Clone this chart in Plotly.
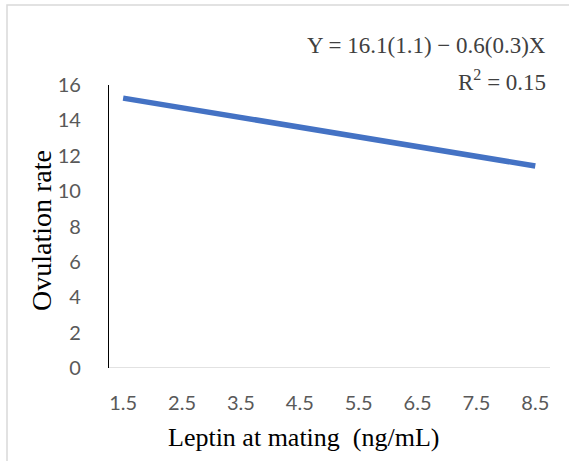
import plotly.graph_objects as go

# Fitted regression line: leptin at mating vs ovulation rate
leptin = [1.5, 8.5]
ovulation_fit = [15.26, 11.42]

x_ticks = [1.5, 2.5, 3.5, 4.5, 5.5, 6.5, 7.5, 8.5]
y_ticks = [0, 2, 4, 6, 8, 10, 12, 14, 16]

W, H = 569, 461
L, R, T, B = 109, 19, 85, 93
PW, PH = W - L - R, H - T - B


def px(x):
    return (x - L) / PW


def py(y):
    return (H - B - y) / PH


fig = go.Figure()
fig.add_trace(go.Scatter(
    x=leptin, y=ovulation_fit, mode="lines",
    line=dict(color="#4472C4", width=5.5),
    hoverinfo="skip", showlegend=False,
))

tick_font = dict(family="Lato, Carlito, sans-serif", size=20, color="#595959")
serif = "Liberation Serif, DejaVu Serif, serif"

fig.update_layout(
    width=W, height=H,
    margin=dict(l=L, r=R, t=T, b=B),
    paper_bgcolor="white", plot_bgcolor="white",
    xaxis=dict(
        range=[1.26, 8.75], tickvals=x_ticks, ticktext=[str(v) for v in x_ticks],
        showgrid=False, zeroline=False, showline=False,
        ticks="", tickfont=tick_font, ticklabelstandoff=21,
    ),
    yaxis=dict(
        range=[0, 16], tickvals=y_ticks,
        showgrid=False, zeroline=False, showline=True,
        linecolor="black", linewidth=1.3,
        ticks="", tickfont=tick_font, ticklabelstandoff=23,
    ),
    font=dict(family=serif),
)

# Light baseline along the x axis
fig.add_shape(type="line", xref="paper", yref="y", x0=0, x1=1, y0=0, y1=0,
              line=dict(color="#D9D9D9", width=1.3))

# Outer chart border (top and left edges visible)
fig.add_shape(type="rect", xref="paper", yref="paper",
              x0=px(7), x1=px(W + 20), y0=py(H + 20), y1=py(5),
              line=dict(color="#D9D9D9", width=1.5), layer="above")

# Axis titles
fig.add_annotation(
    xref="paper", yref="paper", x=px(304), y=py(437),
    xanchor="center", yanchor="middle", showarrow=False,
    text="Leptin at mating  (ng/mL)",
    font=dict(family=serif, size=26, color="black"),
)
fig.add_annotation(
    xref="paper", yref="paper", x=px(41), y=py(231),
    xanchor="center", yanchor="middle", showarrow=False, textangle=-90,
    text="Ovulation rate",
    font=dict(family=serif, size=28, color="black"),
)

# Regression equation and fit statistic
fig.add_annotation(
    xref="paper", yref="paper", x=px(548), y=py(45),
    xanchor="right", yanchor="middle", showarrow=False,
    text="Y = 16.1(1.1) \u2212 0.6(0.3)X",
    font=dict(family=serif, size=23, color="#404040"),
)
fig.add_annotation(
    xref="paper", yref="paper", x=px(548), y=py(80),
    xanchor="right", yanchor="middle", showarrow=False,
    text="R<sup>2</sup> = 0.15",
    font=dict(family=serif, size=23, color="#404040"),
)

fig.write_html("out.html")
